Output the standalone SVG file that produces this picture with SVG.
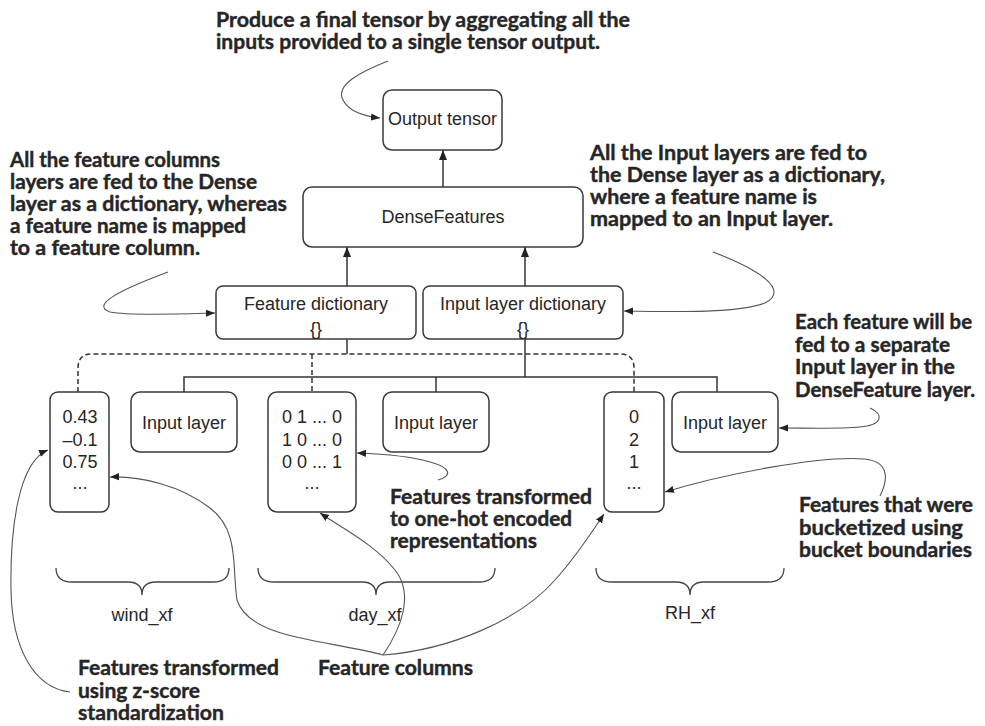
<svg xmlns="http://www.w3.org/2000/svg" width="985" height="726" viewBox="0 0 985 726">
  <style>
    .box { fill: #ffffff; stroke: #3a3a3a; stroke-width: 1.5; }
    .lbl { font-family: "Liberation Sans", Arial, sans-serif; font-size: 18px; fill: #262626; text-anchor: middle; }
    .note { font-family: Lato, "Open Sans", sans-serif; font-weight: bold; font-size: 20px; fill: #262626; stroke: #262626; stroke-width: 0.4; }
    .wire { fill: none; stroke: #333333; stroke-width: 1.5; }
    .dash { fill: none; stroke: #333333; stroke-width: 1.5; stroke-dasharray: 5 3; }
    .call { fill: none; stroke: #555555; stroke-width: 1.1; }
    .brace { fill: none; stroke: #444444; stroke-width: 1.3; }
  </style>
  <defs>
    <marker id="head" viewBox="0 0 10 10" refX="10" refY="5" markerWidth="10" markerHeight="10" markerUnits="userSpaceOnUse" orient="auto">
      <path d="M0,1 L10,5 L0,9 Z" fill="#222222"/>
    </marker>
    <marker id="tip" viewBox="0 0 10 10" refX="10" refY="5" markerWidth="9" markerHeight="9" markerUnits="userSpaceOnUse" orient="auto">
      <path d="M0,1 L10,5 L0,9 Z" fill="#222222"/>
    </marker>
  </defs>

  <!-- connectors between layers -->
  <g id="connectors">
    <line class="wire" x1="443" y1="187" x2="443" y2="150" marker-end="url(#head)"/>
    <line class="wire" x1="347" y1="286" x2="347" y2="247" marker-end="url(#head)"/>
    <line class="wire" x1="525" y1="286" x2="525" y2="247" marker-end="url(#head)"/>
    <path class="wire" d="M347,339 L347,354"/>
    <path class="wire" d="M525,339 L525,377"/>
    <path class="wire" d="M184,392 L184,377 L717,377 L717,392"/>
    <path class="wire" d="M436,377 L436,392"/>
    <path class="dash" d="M78,392 L78,368 Q78,354 92,354 L620,354 Q634,354 634,368 L634,392"/>
    <path class="dash" d="M312,354 L312,392"/>
  </g>

  <!-- layer nodes -->
  <g id="output-tensor">
    <rect class="box" x="383" y="90" width="119" height="60" rx="9"/>
    <text class="lbl" x="442.5" y="124.5">Output tensor</text>
  </g>
  <g id="dense-features">
    <rect class="box" x="303" y="187" width="280" height="60" rx="9"/>
    <text class="lbl" x="443" y="222.5">DenseFeatures</text>
  </g>
  <g id="feature-dictionary">
    <rect class="box" x="216" y="286" width="200" height="53" rx="7"/>
    <text class="lbl" x="316" y="309.5">Feature dictionary</text>
    <text class="lbl" x="316" y="335">{}</text>
  </g>
  <g id="input-layer-dictionary">
    <rect class="box" x="423" y="286" width="200" height="53" rx="7"/>
    <text class="lbl" x="523" y="309.5">Input layer dictionary</text>
    <text class="lbl" x="523" y="335">{}</text>
  </g>

  <!-- feature columns and input layers -->
  <g id="wind-column">
    <rect class="box" x="50" y="392" width="59" height="120" rx="8"/>
    <text class="lbl" x="80" y="423">0.43</text>
    <text class="lbl" x="80" y="446">–0.1</text>
    <text class="lbl" x="80" y="468">0.75</text>
    <text class="lbl" x="80" y="489">...</text>
  </g>
  <g id="input-layer-wind">
    <rect class="box" x="131" y="392" width="106" height="60" rx="9"/>
    <text class="lbl" x="184" y="428.5">Input layer</text>
  </g>
  <g id="day-column">
    <rect class="box" x="268" y="392" width="88" height="120" rx="9"/>
    <text class="lbl" x="312" y="423">0 1 ... 0</text>
    <text class="lbl" x="312" y="446">1 0 ... 0</text>
    <text class="lbl" x="312" y="468">0 0 ... 1</text>
    <text class="lbl" x="312" y="489">...</text>
  </g>
  <g id="input-layer-day">
    <rect class="box" x="383" y="392" width="106" height="60" rx="9"/>
    <text class="lbl" x="436" y="428.5">Input layer</text>
  </g>
  <g id="rh-column">
    <rect class="box" x="604" y="392" width="60" height="120" rx="8"/>
    <text class="lbl" x="634" y="423">0</text>
    <text class="lbl" x="634" y="446">2</text>
    <text class="lbl" x="634" y="468">1</text>
    <text class="lbl" x="634" y="489">...</text>
  </g>
  <g id="input-layer-rh">
    <rect class="box" x="672" y="392" width="106" height="60" rx="9"/>
    <text class="lbl" x="725" y="428.5">Input layer</text>
  </g>

  <!-- braces under each feature group -->
  <g id="wind-xf">
    <path class="brace" d="M56,568 Q56,582 72,582 L128,582 Q142,582 142,595 Q142,582 156,582 L213,582 Q229,582 229,568"/>
    <text class="lbl" x="142" y="621">wind_xf</text>
  </g>
  <g id="day-xf">
    <path class="brace" d="M258,568 Q258,582 274,582 L362,582 Q376,582 376,595 Q376,582 390,582 L479,582 Q495,582 495,568"/>
    <text class="lbl" x="375" y="621">day_xf</text>
  </g>
  <g id="rh-xf">
    <path class="brace" d="M596,568 Q596,582 612,582 L676,582 Q690,582 690,595 Q690,582 704,582 L768,582 Q784,582 784,568"/>
    <text class="lbl" x="690" y="619">RH_xf</text>
  </g>

  <!-- callout notes -->
  <g id="note-output">
    <text class="note" x="216" y="27" textLength="414" lengthAdjust="spacingAndGlyphs">Produce a final tensor by aggregating all the</text>
    <text class="note" x="216" y="49" textLength="384" lengthAdjust="spacingAndGlyphs">inputs provided to a single tensor output.</text>
    <path class="call" d="M388,61 C360,72 335,85 343,100 C348,110 362,116 380,118" marker-end="url(#tip)"/>
  </g>
  <g id="note-feature-dict">
    <text class="note" x="10" y="167" textLength="210" lengthAdjust="spacingAndGlyphs">All the feature columns</text>
    <text class="note" x="10" y="189" textLength="247" lengthAdjust="spacingAndGlyphs">layers are fed to the Dense</text>
    <text class="note" x="10" y="211" textLength="277" lengthAdjust="spacingAndGlyphs">layer as a dictionary, whereas</text>
    <text class="note" x="10" y="233" textLength="236" lengthAdjust="spacingAndGlyphs">a feature name is mapped</text>
    <text class="note" x="10" y="255" textLength="190" lengthAdjust="spacingAndGlyphs">to a feature column.</text>
    <path class="call" d="M168,272 C120,290 90,305 110,312 C130,316 180,314 215,313" marker-end="url(#tip)"/>
  </g>
  <g id="note-input-dict">
    <text class="note" x="590" y="160" textLength="277" lengthAdjust="spacingAndGlyphs">All the Input layers are fed to</text>
    <text class="note" x="590" y="182" textLength="295" lengthAdjust="spacingAndGlyphs">the Dense layer as a dictionary,</text>
    <text class="note" x="590" y="204" textLength="227" lengthAdjust="spacingAndGlyphs">where a feature name is</text>
    <text class="note" x="590" y="226" textLength="243" lengthAdjust="spacingAndGlyphs">mapped to an Input layer.</text>
    <path class="call" d="M713,252 C760,270 790,290 765,303 C740,313 680,312 624,311" marker-end="url(#tip)"/>
  </g>
  <g id="note-input-layer">
    <text class="note" x="795" y="329" textLength="177" lengthAdjust="spacingAndGlyphs">Each feature will be</text>
    <text class="note" x="795" y="352" textLength="155" lengthAdjust="spacingAndGlyphs">fed to a separate</text>
    <text class="note" x="795" y="374" textLength="160" lengthAdjust="spacingAndGlyphs">Input layer in the</text>
    <text class="note" x="795" y="397" textLength="180" lengthAdjust="spacingAndGlyphs">DenseFeature layer.</text>
    <path class="call" d="M870,408 C885,415 882,425 860,427 C840,429 810,428 779,428" marker-end="url(#tip)"/>
  </g>
  <g id="note-one-hot">
    <text class="note" x="390" y="504" textLength="202" lengthAdjust="spacingAndGlyphs">Features transformed</text>
    <text class="note" x="390" y="526" textLength="182" lengthAdjust="spacingAndGlyphs">to one-hot encoded</text>
    <text class="note" x="390" y="548" textLength="147" lengthAdjust="spacingAndGlyphs">representations</text>
    <path class="call" d="M438,480 C452,476 452,468 430,462 C410,456 385,454 357,453" marker-end="url(#tip)"/>
  </g>
  <g id="note-bucket">
    <text class="note" x="799" y="512" textLength="174" lengthAdjust="spacingAndGlyphs">Features that were</text>
    <text class="note" x="799" y="535" textLength="164" lengthAdjust="spacingAndGlyphs">bucketized using</text>
    <text class="note" x="799" y="557" textLength="173" lengthAdjust="spacingAndGlyphs">bucket boundaries</text>
    <path class="call" d="M880,496 C888,480 890,462 865,459 C820,455 720,475 665,492" marker-end="url(#tip)"/>
  </g>
  <g id="note-zscore">
    <text class="note" x="78" y="675" textLength="201" lengthAdjust="spacingAndGlyphs">Features transformed</text>
    <text class="note" x="78" y="698" textLength="122" lengthAdjust="spacingAndGlyphs">using z-score</text>
    <text class="note" x="78" y="720" textLength="146" lengthAdjust="spacingAndGlyphs">standardization</text>
    <path class="call" d="M70,692 C35,688 12,650 11,590 C10,530 18,462 48,450" marker-end="url(#tip)"/>
  </g>
  <g id="note-feature-columns">
    <text class="note" x="318" y="675" textLength="155" lengthAdjust="spacingAndGlyphs">Feature columns</text>
    <path class="call" d="M383,655 C330,640 250,640 237,600 C232,570 240,530 210,508 C180,485 140,476 110,477" marker-end="url(#tip)"/>
    <path class="call" d="M383,655 C400,630 415,595 395,570 C375,545 345,530 320,513" marker-end="url(#tip)"/>
    <path class="call" d="M383,655 C450,650 520,620 555,580 C575,558 590,535 604,514" marker-end="url(#tip)"/>
  </g>
</svg>
